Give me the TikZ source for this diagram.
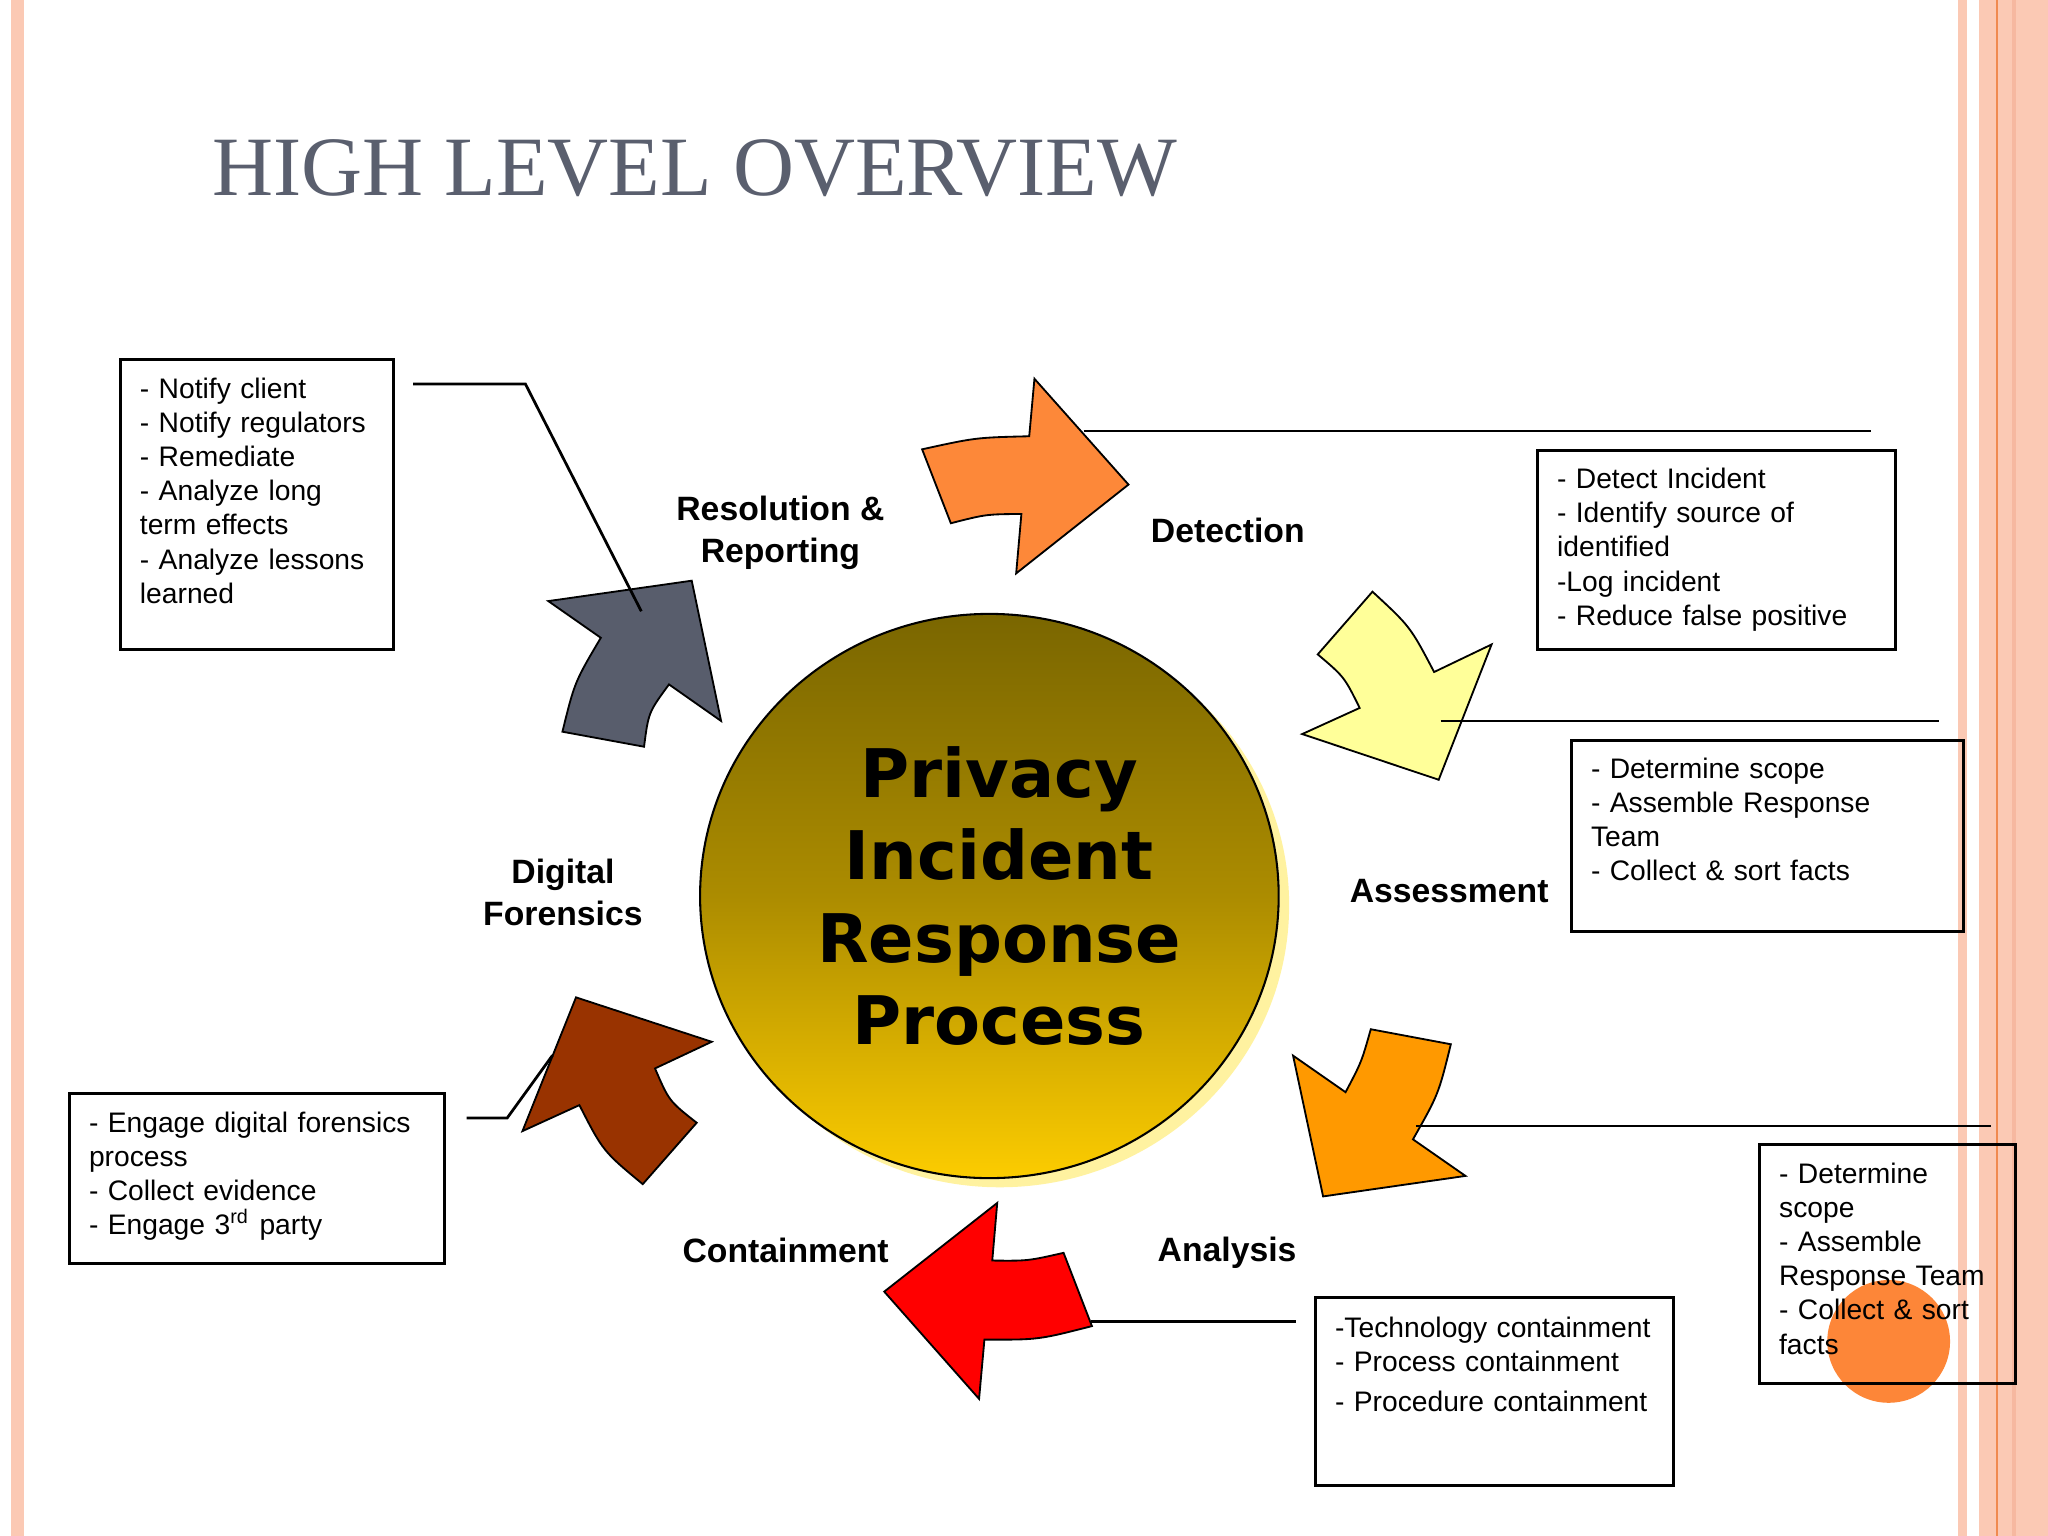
\documentclass[tikz,border=0pt]{standalone}
\usepackage{fontspec}
\setmainfont{Liberation Sans}
\newfontfamily\titlefont{Liberation Serif}
\newfontfamily\hubfont{DejaVu Sans}
\usepackage{xcolor}
\usepackage{tikz}
\usetikzlibrary{shapes.geometric, shadows, calc}

\definecolor{stripePink}{RGB}{251,201,180}
\definecolor{stripeDark}{RGB}{246,184,160}
\definecolor{stripeLine}{RGB}{240,138,80}
\definecolor{titleGray}{RGB}{90,95,110}
\definecolor{hubTop}{RGB}{122,102,0}
\definecolor{hubMid}{RGB}{172,140,0}
\definecolor{hubBottom}{RGB}{252,204,0}
\definecolor{hubShadow}{RGB}{255,242,160}
\definecolor{detectOrange}{RGB}{253,136,57}
\definecolor{assessYellow}{RGB}{255,255,153}
\definecolor{analysisAmber}{RGB}{255,153,0}
\definecolor{containRed}{RGB}{255,0,0}
\definecolor{forensicBrown}{RGB}{153,51,0}
\definecolor{resolveGray}{RGB}{88,93,108}
\definecolor{markOrange}{RGB}{253,134,56}

\begin{document}
\begin{tikzpicture}[
  x=0.1mm, y=-0.1mm,
  note/.style={rectangle, draw, line width=0.65pt, anchor=north west, align=left, inner xsep=1.5mm, inner ysep=0pt, font=\fontsize{6.15}{7.43}\selectfont},
  stage/.style={align=center, font=\bfseries\fontsize{7.35}{9.1}\selectfont},
  hub/.style={ellipse, draw, line width=0.45pt, minimum width=44.3mm, minimum height=43.2mm, top color=hubTop, bottom color=hubBottom, middle color=hubMid, drop shadow={shadow xshift=0.8mm, shadow yshift=-0.7mm, fill=hubShadow, opacity=1}},
  blockarrow/.style={draw=black, line width=0.4pt, line join=miter},
  callout/.style={draw=black, line width=0.6pt}
]

% ---------------------------------------------------
% Page and side stripes
% ---------------------------------------------------
\fill[white] (0,0) rectangle (1568,1176);
\useasboundingbox (0,0) rectangle (1568,1176);

\fill[stripePink] (8.4,0) rectangle (18.4,1176);
\fill[stripePink] (1499.4,0) rectangle (1505.8,1176);
\fill[stripePink] (1515.5,0) rectangle (1568,1176);
\fill[stripeDark] (1540.3,0) rectangle (1543.6,1176);
\draw[stripeLine, line width=0.3pt] (1528.8,0) -- (1528.8,1176);

\node[anchor=base west, inner sep=0pt, text=titleGray, font=\titlefont\fontsize{18.4}{22}\selectfont] (title) at (162,150) {HIGH LEVEL OVERVIEW};

\fill[markOrange] (1446,1027) circle[radius=4.7mm];

% ---------------------------------------------------
% Curved block arrows round the hub
% ---------------------------------------------------
% Resolution -> Detection
\draw[blockarrow, fill=detectOrange] (706,344) .. controls (747,335) .. (788,334) -- (792,290) -- (864,371) -- (778,439) -- (782,393.5) .. controls (755,393.7) .. (728,400.6) -- cycle;

% Detection -> Assessment
\draw[blockarrow, fill=assessYellow] (1050.8,453) .. controls (1079.7,479.7) .. (1098,514.5) -- (1142,493.4) -- (1101.5,597) -- (997,562) -- (1041,542) .. controls (1029.2,518.2) .. (1008.9,501) -- cycle;

% Assessment -> Analysis
\draw[blockarrow, fill=analysisAmber] (1049.5,788) -- (1110.8,799.5) .. controls (1101.3,837.9) .. (1081.8,872.3) -- (1122,900.3) -- (1013,916) -- (990,808.2) -- (1030.2,836.2) .. controls (1042.4,813.1) .. cycle;

% Analysis -> Containment
\draw[blockarrow, fill=containRed] (814.3,959.2) -- (836,1015.3) .. controls (794.9,1025.8) .. (753.7,1025.6) -- (749.6,1071) -- (677,988.9) -- (763.5,921) -- (759.7,965.1) .. controls (787,965.4) .. cycle;

% Containment -> Digital Forensics
\draw[blockarrow, fill=forensicBrown] (533.4,859.6) -- (492.1,906.6) .. controls (461.7,881.4) .. (443.6,846.1) -- (400,866) -- (441,763.6) -- (544.9,797.6) -- (501.5,818) .. controls (512.2,842.9) .. cycle;

% Digital Forensics -> Resolution
\draw[blockarrow, fill=resolveGray] (430.6,560.2) .. controls (440,522.1) .. (460,488.3) -- (419.8,460.2) -- (529.6,444.6) -- (552.1,552) -- (512.2,524) .. controls (496.5,545.4) .. (493.1,571.7) -- cycle;

% ---------------------------------------------------
% Hub
% ---------------------------------------------------
\node[hub] (hub) at (757.5,686) {};
\node[align=center, font=\hubfont\bfseries\fontsize{14.6}{17.9}\selectfont] (hubText) at ([xshift=0.75mm]hub.center) {Privacy\\Incident\\Response\\Process};

% ---------------------------------------------------
% Stage labels
% ---------------------------------------------------
\node[stage] (lblResolve) at (597.5,408) {Resolution \&\\Reporting};
\node[stage] (lblDetect) at (940,406) {Detection};
\node[stage] (lblAssess) at (1109.5,682) {Assessment};
\node[stage] (lblForensic) at (431,683) {Digital\\Forensics};
\node[stage] (lblContain) at (601.5,957) {Containment};
\node[stage] (lblAnalysis) at (939.5,959) {Analysis};

% ---------------------------------------------------
% Note boxes
% ---------------------------------------------------
\node[note, text width=17.9mm, text height=3mm, text depth=19.2mm] (notesResolve) at (91,274) {- Notify client\\- Notify regulators\\- Remediate\\- Analyze long\\term effects\\- Analyze lessons\\learned};

\node[note, text width=24.4mm, text height=2.9mm, text depth=12.3mm] (notesDetect) at (1176,344) {- Detect Incident\\- Identify source of\\identified\\-Log incident\\- Reduce false~positive};

\node[note, text width=27mm, text height=2.9mm, text depth=11.7mm] (notesAssess) at (1202,566) {- Determine scope\\- Assemble Response\\Team\\- Collect \& sort facts};

\node[note, text width=16.6mm, text height=3mm, text depth=15.3mm] (notesAnalysis) at (1346,875) {- Determine\\scope\\- Assemble\\Response~Team\\- Collect \& sort\\facts};

\node[note, text width=24.4mm, text height=3.1mm, text depth=11.3mm] (notesContain) at (1006,992) {-Technology~containment\\- Process containment\\[0.4mm]- Procedure containment};

\node[note, text width=25.7mm, text height=3mm, text depth=10mm] (notesForensic) at (52,836) {- Engage digital forensics\\process\\- Collect evidence\\- Engage 3\textsuperscript{rd} party};

% ---------------------------------------------------
% Callout lines
% ---------------------------------------------------
\coordinate (resolveEnd) at (491,468);
\coordinate (detectStart) at (830,330);
\coordinate (assessStart) at (1103,552);
\coordinate (analysisStart) at (1084,862);
\coordinate (containStart) at (835,1012);
\coordinate (forensicEnd) at (423,808);

\draw[callout] ([shift={(14,20)}]notesResolve.north east) -- ++(86,0) -- (resolveEnd);
\draw[callout] (detectStart) -- ([shift={(-20,-14)}]notesDetect.north east);
\draw[callout] (assessStart) -- ([shift={(-20,-14)}]notesAssess.north east);
\draw[callout] (analysisStart) -- ([shift={(-20,-13)}]notesAnalysis.north east);
\draw[callout] (containStart) -- ([shift={(-14,20)}]notesContain.north west);
\draw[callout] ([shift={(16,20)}]notesForensic.north east) -- ++(31,0) -- (forensicEnd);

\end{tikzpicture}
\end{document}
